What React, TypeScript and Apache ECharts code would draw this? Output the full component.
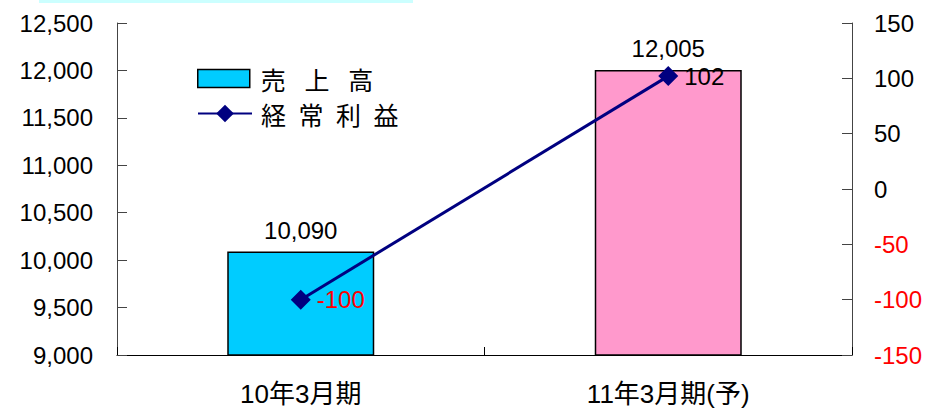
import React, { useEffect, useRef } from "react";
import * as echarts from "echarts";

const categories = ["10年3月期", "11年3月期(予)"];
const salesValues = [10090, 12005];
const profitValues = [-100, 102];
const salesName = "売\u2002\u2005上\u2002\u2005高";
const profitName = "経\u2002常\u2002利\u2002益";

export default function App() {
  const ref = useRef<HTMLDivElement>(null);
  useEffect(() => {
    if (!ref.current) return;
    const chart = echarts.init(ref.current, null, { renderer: "svg" });
    const font = "'Noto Sans CJK JP', 'Noto Sans', sans-serif";
    const numFont = "'Liberation Sans', 'Noto Sans CJK JP', sans-serif";
    const numSize = 24;
    const legendText = { fontSize: 25, color: "#000", fontFamily: font, padding: [0, 0, 0, 6] };
    chart.setOption({
      animation: false,
      textStyle: { fontFamily: font },
      graphic: [
        {
          type: "rect",
          shape: { x: 39, y: 0, width: 374, height: 3 },
          style: { fill: "#ccffff" },
          silent: true,
        },
      ],
      legend: [
        {
          left: 192,
          top: 61,
          itemWidth: 52,
          itemHeight: 18,
          textStyle: legendText,
          data: [
            {
              name: salesName,
              icon: "rect",
              itemStyle: { color: "#00ccff", borderColor: "#000", borderWidth: 1.5 },
            },
          ],
        },
        {
          left: 192,
          top: 96,
          itemWidth: 54,
          itemHeight: 22,
          textStyle: { ...legendText, padding: [0, 0, 0, 4] },
          data: [{ name: profitName }],
        },
      ],
      grid: { left: 117, right: 85, top: 23, bottom: 53, containLabel: false },
      xAxis: {
        type: "category",
        data: categories,
        axisLine: { onZero: false, lineStyle: { color: "#000", width: 1 } },
        axisTick: { show: true, inside: true, length: 8, lineStyle: { color: "#000" } },
        axisLabel: {
          fontSize: 26,
          lineHeight: 26,
          color: "#000",
          margin: 26,
          fontFamily: numFont,
        },
      },
      yAxis: [
        {
          type: "value",
          min: 9000,
          max: 12500,
          interval: 500,
          splitLine: { show: false },
          axisLine: { show: true, onZero: false, lineStyle: { color: "#444" } },
          axisTick: { show: true, inside: true, length: 10, lineStyle: { color: "#444" } },
          axisLabel: {
            fontSize: numSize,
            color: "#000",
            margin: 24,
            fontFamily: numFont,
            formatter: (v: number) => v.toLocaleString("en-US"),
          },
        },
        {
          type: "value",
          min: -150,
          max: 150,
          interval: 50,
          position: "right",
          splitLine: { show: false },
          axisLine: { show: true, onZero: false, lineStyle: { color: "#444" } },
          axisTick: { show: true, inside: true, length: 10, lineStyle: { color: "#444" } },
          axisLabel: {
            fontSize: numSize,
            margin: 22,
            fontFamily: numFont,
            color: (v: any) => (Number(v) < 0 ? "#ff0000" : "#000"),
          },
        },
      ],
      series: [
        {
          name: salesName,
          type: "bar",
          yAxisIndex: 0,
          barWidth: "40%",
          data: salesValues.map((v, i) => ({
            value: v,
            itemStyle: {
              color: i === 0 ? "#00ccff" : "#ff99cc",
              borderColor: "#000",
              borderWidth: 1.5,
            },
          })),
          label: {
            show: true,
            position: "top",
            distance: 10,
            fontSize: numSize,
            lineHeight: 22,
            color: "#000",
            fontFamily: numFont,
            formatter: (p: any) => Number(p.value).toLocaleString("en-US"),
          },
        },
        {
          name: profitName,
          type: "line",
          yAxisIndex: 1,
          symbol: "diamond",
          symbolSize: 20,
          lineStyle: { color: "#000080", width: 3 },
          itemStyle: { color: "#000080" },
          data: profitValues.map((v) => ({
            value: v,
            label: { color: v < 0 ? "#ff0000" : "#000" },
          })),
          label: {
            show: true,
            position: "right",
            distance: 6,
            fontSize: numSize,
            lineHeight: 20,
            fontFamily: numFont,
          },
          z: 5,
        },
      ],
    });
    return () => chart.dispose();
  }, []);
  return <div ref={ref} style={{ width: 937, height: 408, position: "absolute", left: 0, top: 0 }} />;
}
